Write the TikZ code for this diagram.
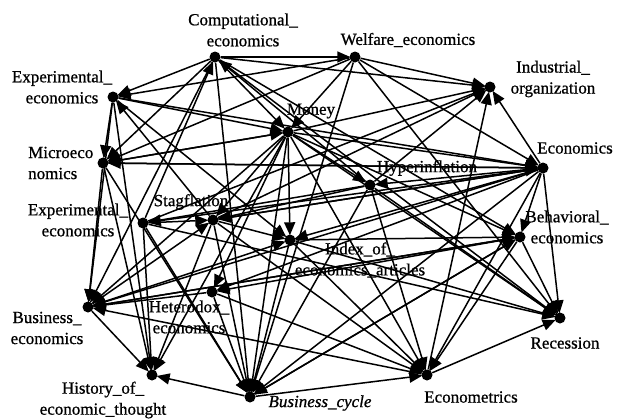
\documentclass[tikz,border=0pt]{standalone}
\usepackage{fontspec}
\setmainfont{Liberation Serif}[FakeBold=0.8]
\usetikzlibrary{arrows.meta}
\begin{document}
\begin{tikzpicture}[x=1pt,y=-1pt,
  dot/.style={circle,fill=black,inner sep=0pt,minimum size=11pt},
  lbl/.style={font=\fontsize{17}{21}\selectfont,inner sep=0pt,align=center},
  arr/.style={line width=1.5pt,-{Triangle[length=13pt,width=11pt]},shorten >=-1pt}]
\useasboundingbox (0,0) rectangle (621,418);
% node dots
\node[dot] (C)  at (215,57)  {};
\node[dot] (W)  at (355,57)  {};
\node[dot] (I)  at (490,87)  {};
\node[dot] (E)  at (543,168) {};
\node[dot] (M)  at (288,132) {};
\node[dot] (X1) at (113,97)  {};
\node[dot] (Mi) at (103,163) {};
\node[dot] (H)  at (370,185) {};
\node[dot] (X2) at (143,223) {};
\node[dot] (S)  at (213,220) {};
\node[dot] (Ix) at (290,240) {};
\node[dot] (B)  at (520,237) {};
\node[dot] (He) at (212,292) {};
\node[dot] (BE) at (88,307)  {};
\node[dot] (R)  at (560,318) {};
\node[dot] (Hi) at (152,375) {};
\node[dot] (BC) at (250,397) {};
\node[dot] (Em) at (427,375) {};
% labels
\node[lbl] (lC)  at (243,30)  {Computational\_\\economics};
\node[lbl] (lW)  at (408,40)  {Welfare\_economics};
\node[lbl] (lI)  at (553,79)  {Industrial\_\\organization};
\node[lbl] (lE)  at (575,148) {Economics};
\node[lbl] (lM)  at (311,111) {Money};
\node[lbl] (lX1) at (62,87)   {Experimental\_\\economics};
\node[lbl,align=left,anchor=west] (lMi) at (28,163) {Microeco\\nomics};
\node[lbl] (lH)  at (427,168) {Hyperinflation};
\node[lbl] (lX2) at (78,220)  {Experimental\_\\economics};
\node[lbl] (lS)  at (191,202) {Stagflation};
\node[lbl] (lIx) at (360,260) {Index\_of\_\\economics\_articles};
\node[lbl] (lB)  at (567,227) {Behavioral\_\\economics};
\node[lbl] (lHe) at (189,317) {Heterodox\_\\economics};
\node[lbl] (lBE) at (47,328)  {Business\_\\economics};
\node[lbl] (lR)  at (565,343) {Recession};
\node[lbl] (lHi) at (103,400) {History\_of\_\\economic\_thought};
\node[lbl,font=\fontsize{17}{21}\selectfont\itshape] (lBC) at (320,403) {Business\_cycle};
\node[lbl] (lEm) at (471,397) {Econometrics};
% connectors
\foreach \a/\b in {C/W, C/I, C/X1, C/Mi, C/BE, C/M, C/B, C/R, C/BC,
  W/I, W/Mi, W/M, W/E, W/R, W/BC, W/X1,
  X1/M, X1/E, X1/Ix, X1/BE, X1/Hi, X1/Mi,
  Mi/M, Mi/BE, Mi/Hi, Mi/BC, Mi/E,
  M/I, M/Mi, M/H, M/S, M/Ix, M/He, M/BE, M/R, M/Hi, M/BC, M/Em, M/E, M/B,
  H/I, H/S, H/X2, H/R, H/BC, H/Em, H/C,
  E/I, E/H, E/S, E/Ix, E/B, E/R, E/Em, E/He, E/BE, E/X2, E/BC, E/Mi,
  X2/C, X2/S, X2/Hi, X2/BC, X2/R, X2/I,
  S/I, S/Ix, S/Hi, S/BC, S/Em, S/E, S/X1,
  Ix/R, Ix/B, Ix/BC, Ix/Em,
  B/He, B/R, B/Em, B/BE, B/BC,
  He/Em, He/BC, He/BE,
  BE/S, BE/Ix, BE/Hi, BE/B,
  BC/Hi, BC/Em, BC/B,
  Em/R, Em/BE, Em/I}
  \draw[arr] (\a) -- (\b);
\end{tikzpicture}
\end{document}
